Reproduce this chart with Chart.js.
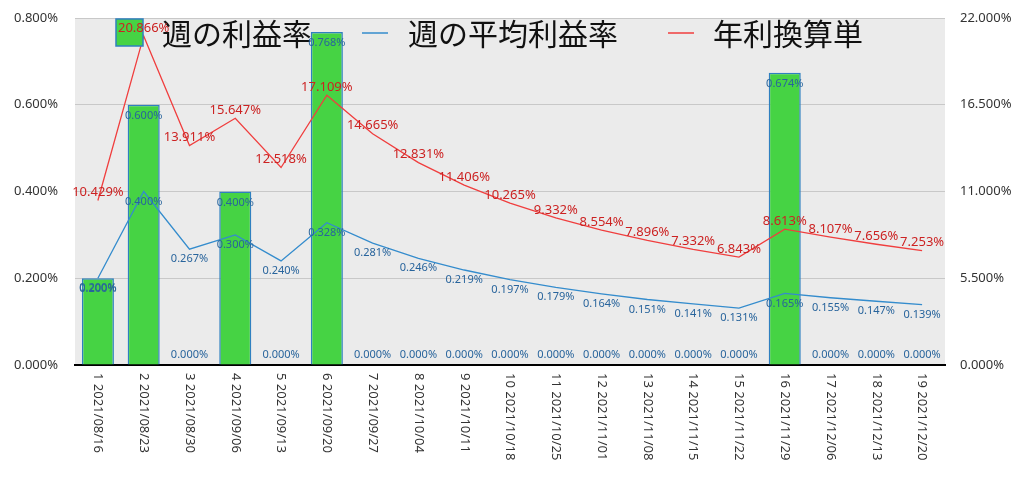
<!DOCTYPE html>
<html>
<head>
<meta charset="utf-8">
<script src="https://cdn.jsdelivr.net/npm/chart.js@4"></script>
<style>
  body { margin: 0; background: #fff; }
  #wrap { width: 1024px; height: 478px; }
</style>
</head>
<body>
<div id="wrap"><canvas id="chart"></canvas></div>
<script>
const weeks = ['2021/08/16', '2021/08/23', '2021/08/30', '2021/09/06', '2021/09/13', '2021/09/20', '2021/09/27',
  '2021/10/04', '2021/10/11', '2021/10/18', '2021/10/25', '2021/11/01', '2021/11/08', '2021/11/15',
  '2021/11/22', '2021/11/29', '2021/12/06', '2021/12/13', '2021/12/20'];
const weeklyRate = [0.200, 0.600, 0, 0.400, 0, 0.768, 0, 0, 0, 0, 0, 0, 0, 0, 0, 0.674, 0, 0, 0];
const avgRate = [0.200, 0.400, 0.267, 0.300, 0.240, 0.328, 0.281, 0.246, 0.219, 0.197, 0.179, 0.164,
  0.151, 0.141, 0.131, 0.165, 0.155, 0.147, 0.139];
const annualRate = [10.429, 20.866, 13.911, 15.647, 12.518, 17.109, 14.665, 12.831, 11.406, 10.265, 9.332,
  8.554, 7.896, 7.332, 6.843, 8.613, 8.107, 7.656, 7.253];
const leftTicks = [0, 0.2, 0.4, 0.6, 0.8];
const rightTicks = [0, 5.5, 11, 16.5, 22];
const seriesNames = ['週の利益率', '週の平均利益率', '年利換算単'];

const labels = weeks.map((w, i) => (i + 1) + ' ' + w);
const pct = v => v.toFixed(3) + '%';

const GREEN = '#46d344';
const BAR_EDGE = '#2f80c0';
const BLUE = 'rgb(52,140,205)';
const RED = 'rgb(240,62,62)';
const BLUE_TXT = '#28649c';
const RED_TXT = '#cc2222';

// plot background + custom labels + legend
const extras = {
  id: 'extras',
  beforeDraw(chart) {
    const a = chart.chartArea, ctx = chart.ctx;
    ctx.save();
    ctx.fillStyle = '#ebebeb';
    ctx.fillRect(a.left, a.top, a.right - a.left, a.bottom - a.top);
    ctx.restore();
  },
  afterDatasetsDraw(chart) {
    const ctx = chart.ctx, a = chart.chartArea;
    const x = chart.scales.x;
    ctx.save();

    // x labels, rotated clockwise
    ctx.fillStyle = '#333';
    ctx.font = '13px "Noto Sans", sans-serif';
    ctx.textAlign = 'left';
    ctx.textBaseline = 'middle';
    labels.forEach((l, i) => {
      ctx.save();
      ctx.translate(x.getPixelForValue(i), a.bottom + 8);
      ctx.rotate(Math.PI / 2);
      ctx.fillText(l, 0, 0);
      ctx.restore();
    });

    // legend inside plot
    ctx.fillStyle = GREEN;
    ctx.fillRect(116, 19, 27, 27);
    ctx.strokeStyle = BAR_EDGE;
    ctx.lineWidth = 1.5;
    ctx.strokeRect(116, 19, 27, 27);
    ctx.lineWidth = 1.5;
    ctx.strokeStyle = BLUE;
    ctx.beginPath(); ctx.moveTo(362, 33); ctx.lineTo(388, 33); ctx.stroke();
    ctx.strokeStyle = RED;
    ctx.beginPath(); ctx.moveTo(668, 33); ctx.lineTo(694, 33); ctx.stroke();
    ctx.fillStyle = '#111';
    ctx.font = '30px "Noto Sans CJK JP", sans-serif';
    ctx.textAlign = 'left';
    ctx.textBaseline = 'middle';
    ctx.fillText(seriesNames[0], 162, 34);
    ctx.fillText(seriesNames[1], 408, 34);
    ctx.fillText(seriesNames[2], 713, 34);

    // value labels
    ctx.textAlign = 'center';
    ctx.textBaseline = 'middle';
    const barMeta = chart.getDatasetMeta(0);
    ctx.fillStyle = BLUE_TXT;
    ctx.font = '11px "Noto Sans", sans-serif';
    barMeta.data.forEach((el, i) => {
      const y = weeklyRate[i] > 0 ? el.y + 11 : a.bottom - 10;
      ctx.fillText(pct(weeklyRate[i]), el.x, y);
    });
    const avgMeta = chart.getDatasetMeta(1);
    avgMeta.data.forEach((el, i) => {
      ctx.fillText(pct(avgRate[i]), el.x, el.y + 10);
    });
    const annMeta = chart.getDatasetMeta(2);
    ctx.fillStyle = RED_TXT;
    ctx.font = '13px "Noto Sans", sans-serif';
    annMeta.data.forEach((el, i) => {
      ctx.fillText(pct(annualRate[i]), el.x, el.y - 8);
    });
    ctx.restore();
  }
};

new Chart(document.getElementById('chart'), {
  type: 'bar',
  data: {
    labels: labels,
    datasets: [
      {
        label: seriesNames[0],
        data: weeklyRate,
        backgroundColor: GREEN,
        borderColor: BAR_EDGE,
        borderWidth: 1.5,
        barPercentage: 0.7,
        categoryPercentage: 1,
        yAxisID: 'y',
        order: 3
      },
      {
        type: 'line',
        label: seriesNames[1],
        data: avgRate,
        borderColor: BLUE,
        borderWidth: 1.3,
        pointRadius: 0,
        tension: 0,
        yAxisID: 'y',
        order: 2
      },
      {
        type: 'line',
        label: seriesNames[2],
        data: annualRate,
        borderColor: RED,
        borderWidth: 1.3,
        pointRadius: 0,
        tension: 0,
        yAxisID: 'y2',
        order: 1
      }
    ]
  },
  options: {
    responsive: true,
    maintainAspectRatio: false,
    animation: false,
    layout: { padding: { top: 0, left: 0, right: 0, bottom: 0 } },
    plugins: { legend: { display: false }, tooltip: { enabled: false } },
    scales: {
      x: {
        offset: true,
        grid: { display: false },
        border: { display: true, color: '#000', width: 2 },
        ticks: { display: false },
        afterFit(s) { s.height = 113; }
      },
      y: {
        position: 'left',
        min: 0,
        max: 0.8,
        afterBuildTicks(s) { s.ticks = leftTicks.map(v => ({ value: v })); },
        grid: { color: '#c8c8c8', lineWidth: 1, drawTicks: false },
        border: { display: false },
        ticks: {
          padding: 17,
          color: '#333',
          font: { family: '"Noto Sans", sans-serif', size: 13 },
          callback: v => pct(v)
        },
        afterFit(s) { s.width = 75; s.paddingTop = 18; }
      },
      y2: {
        position: 'right',
        min: 0,
        max: 22,
        afterBuildTicks(s) { s.ticks = rightTicks.map(v => ({ value: v })); },
        grid: { display: false, drawTicks: false },
        border: { display: false },
        ticks: {
          padding: 15,
          color: '#333',
          font: { family: '"Noto Sans", sans-serif', size: 13 },
          callback: v => pct(v)
        },
        afterFit(s) { s.width = 79; s.paddingTop = 18; }
      }
    }
  },
  plugins: [extras]
});
</script>
</body>
</html>
